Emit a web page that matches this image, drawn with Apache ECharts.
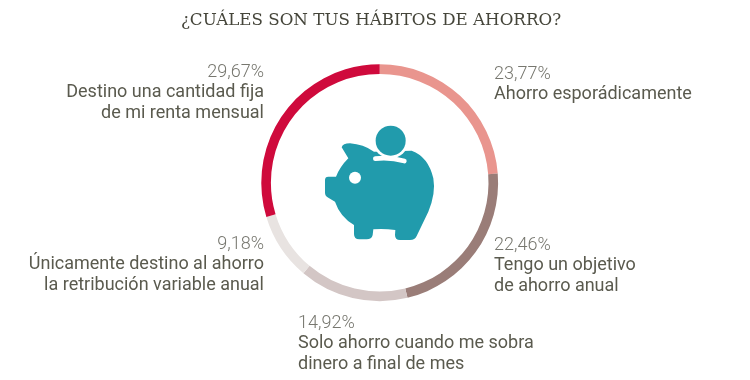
<!DOCTYPE html>
<html><head><meta charset="utf-8">
<style>html,body{margin:0;padding:0;background:#fff}#c{width:750px;height:380px}</style>
<script src="https://cdn.jsdelivr.net/npm/echarts@6/dist/echarts.min.js"></script>
</head><body><div id="c"></div>
<script>
const titleText = '¿CUÁLES SON TUS HÁBITOS DE AHORRO?';
const categories = ['Ahorro esporádicamente','Tengo un objetivo\nde ahorro anual','Solo ahorro cuando me sobra\ndinero a final de mes','Únicamente destino al ahorro\nla retribución variable anual','Destino una cantidad fija\nde mi renta mensual'];
const values = [23.77,22.46,14.92,9.18,29.67];
const colors = ['#e9958e','#9a7d78','#d3c6c5','#e8e3e1','#cf0a3c'];
const labelSpots = [
 {x:494,y:64,align:'left'},{x:494,y:235,align:'left'},{x:298,y:313,align:'left'},
 {x:264,y:234,align:'right'},{x:264,y:62,align:'right'}];
const piggy = 'M125 112 Q128 100 150 100 Q190 103 222 125 L335 122 Q385 140 400 205 Q408 250 385 305 L350 378 Q345 390 330 390 L300 390 Q285 390 285 375 L286 360 Q250 355 220 358 L218 375 Q215 388 200 388 L178 388 Q162 388 162 372 L162 345 Q120 320 105 275 L85 263 Q75 258 75 248 L75 210 Q75 200 85 200 L108 200 Q120 170 145 145 Z';
const slot = 'M226 146 Q270 141 313 153';
const toText = (i) => values[i].toFixed(2).replace('.', ',') + '%';
const chart = echarts.init(document.getElementById('c'), null, {renderer:'canvas'});
chart.setOption({
 animation:false,
 title:{text:titleText,left:366,top:7,textAlign:'center',textStyle:{fontFamily:'DejaVu Serif',fontWeight:'normal',fontSize:16.7,color:'#45453a'}},
 series:[{
  type:'pie',center:[379.7,182.7],radius:[108.8,118.4],startAngle:90,clockwise:true,silent:true,
  itemStyle:{borderWidth:0},
  label:{show:true,position:'outside',bleedMargin:0,overflow:'none',formatter:(p)=>{
     const lines=p.name.split('\n').map(l=>'{n|'+l+'}').join('\n');
     return '{p|'+toText(p.dataIndex)+'}\n'+lines;},
   rich:{p:{fontFamily:'Roboto',fontWeight:300,fontSize:18,lineHeight:20,color:'#77776f'},
         n:{fontFamily:'Roboto',fontWeight:400,fontSize:18,lineHeight:21,color:'#5a5a4e'}}},
  labelLine:{show:false},
  labelLayout:(p)=>({x:labelSpots[p.dataIndex].x,y:labelSpots[p.dataIndex].y,align:labelSpots[p.dataIndex].align,verticalAlign:'top'}),
  data:categories.map((c,i)=>({name:c,value:values[i],itemStyle:{color:colors[i]},label:{align:labelSpots[i].align}}))
 },{
  type:'custom',coordinateSystem:'none',silent:true,data:[0],
  renderItem:()=>({type:'group',x:300,y:110,scaleX:1/3,scaleY:1/3,children:[
   {type:'path',shape:{pathData:piggy},style:{fill:'#219bac'}},
   {type:'circle',shape:{cx:272,cy:92,r:53},style:{fill:'#fff'}},
   {type:'path',shape:{pathData:slot},style:{fill:'none',stroke:'#fff',lineWidth:14,lineCap:'round'}},
   {type:'circle',shape:{cx:272,cy:92,r:45},style:{fill:'#219bac'}},
   {type:'circle',shape:{cx:165,cy:203,r:18},style:{fill:'#fff'}}
  ]})
 }]
});
</script></body></html>
